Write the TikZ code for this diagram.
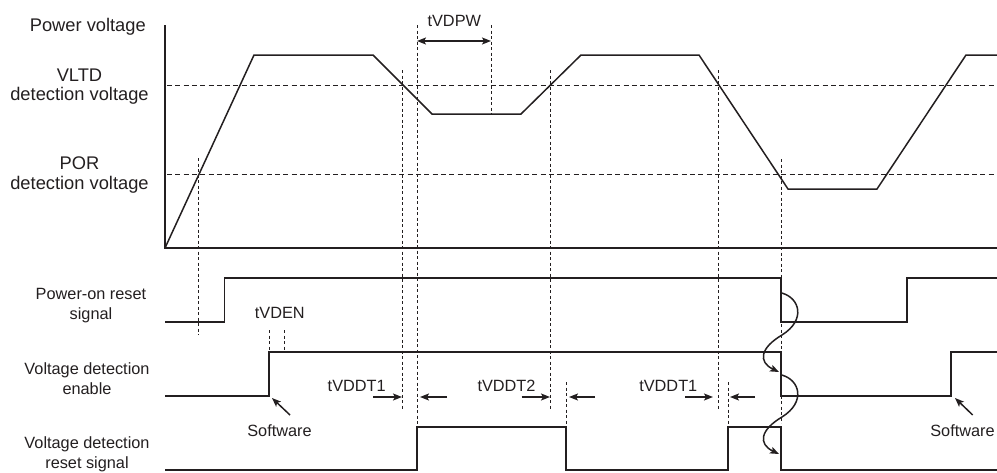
\documentclass[tikz,border=0pt]{standalone}
\usepackage{fontspec}
\setmainfont{Liberation Sans}
\usetikzlibrary{arrows.meta}
\definecolor{ink}{HTML}{231F20}
\begin{document}
\begin{tikzpicture}[x=1pt,y=-1pt, color=ink,
  sig/.style={line width=1.5pt, line join=miter},
  axisline/.style={line width=2pt},
  hdash/.style={line width=1pt, dash pattern=on 5pt off 3.3pt},
  vdash/.style={line width=0.8pt, dash pattern=on 3pt off 2.5pt},
  big/.style={font=\fontsize{18.3}{20}\selectfont, inner sep=0pt, anchor=base},
  lab/.style={font=\fontsize{16.3}{20}\selectfont, inner sep=0pt, anchor=base},
  arr/.style={line width=1.5pt, -{Stealth[length=9pt,width=7pt,inset=2pt]}},
  darr/.style={line width=1.5pt, {Stealth[length=9pt,width=7pt,inset=2pt]}-{Stealth[length=9pt,width=7pt,inset=2pt]}},
]
\useasboundingbox (0,0) rectangle (997,472);

% ---------- left labels ----------
\node[big, anchor=base east] (pv) at (146,31) {Power voltage};
\node[big] (vltd1) at (79.5,81) {VLTD};
\node[big] (vltd2) at (79.5,100.7) {detection voltage};
\node[big] (por1) at (79.5,169.3) {POR};
\node[big] (por2) at (79.5,189.3) {detection voltage};
\node[lab] (pors1) at (91,299.3) {Power-on reset};
\node[lab] (pors2) at (91,319.3) {signal};
\node[lab] (vde1) at (87,374) {Voltage detection};
\node[lab] (vde2) at (87,394) {enable};
\node[lab] (vdr1) at (87,448.7) {Voltage detection};
\node[lab] (vdr2) at (87,468.3) {reset signal};

% ---------- axes ----------
\draw[axisline] (165,25) -- (165,248) -- (997,248);

% ---------- threshold lines ----------
\draw[hdash] (167,85) -- (995,85);
\draw[hdash] (167,174) -- (995,174);

% ---------- power voltage ----------
\draw[sig] (165,248) -- (254,55) -- (373,55) -- (432,114) -- (521,114) -- (581,55)
  -- (699,55) -- (788,189) -- (877,189) -- (966,55) -- (997,55);

% ---------- vertical dashed guides ----------
\draw[vdash] (198.5,158) -- (198.5,335);
\draw[vdash] (402.6,70) -- (402.6,410);
\draw[vdash] (417,25) -- (417,427);
\draw[vdash] (491,25) -- (491,114);
\draw[vdash] (550.7,70) -- (550.7,410);
\draw[vdash] (566,382) -- (566,427);
\draw[vdash] (718,70) -- (718,410);
\draw[vdash] (728,382) -- (728,427);
\draw[vdash] (781,159) -- (781,423);
\draw[vdash] (269,330) -- (269,350);
\draw[vdash] (284,330) -- (284,350);

% ---------- tVDPW ----------
\node[lab] (tvdpw) at (454.3,26) {tVDPW};
\coordinate (pwL) at (417,41);
\coordinate (pwR) at (491,41);
\draw[darr] (pwL) -- (pwR);

% ---------- digital signals ----------
\draw[sig] (165,322) -- (224.3,322) -- (224.3,278) -- (781,278) -- (781,322)
  -- (907,322) -- (907,278) -- (997,278);
\draw[sig] (165,396) -- (269,396) -- (269,352) -- (781,352) -- (781,396)
  -- (951,396) -- (951,352) -- (997,352);
\draw[sig] (165,470) -- (417,470) -- (417,427) -- (566,427) -- (566,470)
  -- (728,470) -- (728,427) -- (781,427) -- (781,470) -- (997,470);

% ---------- tVDEN ----------
\node[lab] (tvden) at (279.8,318.3) {tVDEN};

% ---------- tVDDT ----------
\node[lab] (tdt1a) at (356.7,391.7) {tVDDT1};
\node[lab] (tdt2) at (506.5,391.7) {tVDDT2};
\node[lab] (tdt1b) at (668.3,391.7) {tVDDT1};
\coordinate (a1s) at (373,397);   \coordinate (a1e) at (402,397);
\coordinate (a2s) at (447,397);   \coordinate (a2e) at (420,397);
\coordinate (b1s) at (521.7,397); \coordinate (b1e) at (550,397);
\coordinate (b2s) at (595,397);   \coordinate (b2e) at (569,397);
\coordinate (c1s) at (685,397);   \coordinate (c1e) at (713,397);
\coordinate (c2s) at (755,397);   \coordinate (c2e) at (730,397);
\draw[arr] (a1s) -- (a1e);
\draw[arr] (a2s) -- (a2e);
\draw[arr] (b1s) -- (b1e);
\draw[arr] (b2s) -- (b2e);
\draw[arr] (c1s) -- (c1e);
\draw[arr] (c2s) -- (c2e);

% ---------- Software ----------
\node[lab] (sw1) at (279.5,436) {Software};
\node[lab] (sw2) at (962.5,436) {Software};
\coordinate (sw1s) at (290,415); \coordinate (sw1e) at (272,398);
\coordinate (sw2s) at (972.7,415); \coordinate (sw2e) at (955,398);
\draw[arr] (sw1s) -- (sw1e);
\draw[arr] (sw2s) -- (sw2e);

% ---------- causal wavy arrows ----------
\coordinate (w1s) at (781.7,293); \coordinate (w1e) at (779,372);
\coordinate (w2s) at (781.7,375); \coordinate (w2e) at (779,454);
\draw[arr] (w1s) .. controls (800,298) and (806,320) .. (782,335)
  .. controls (760,348) and (758,362) .. (w1e);
\draw[arr] (w2s) .. controls (800,380) and (806,402) .. (782,417)
  .. controls (760,430) and (758,444) .. (w2e);
\end{tikzpicture}
\end{document}
